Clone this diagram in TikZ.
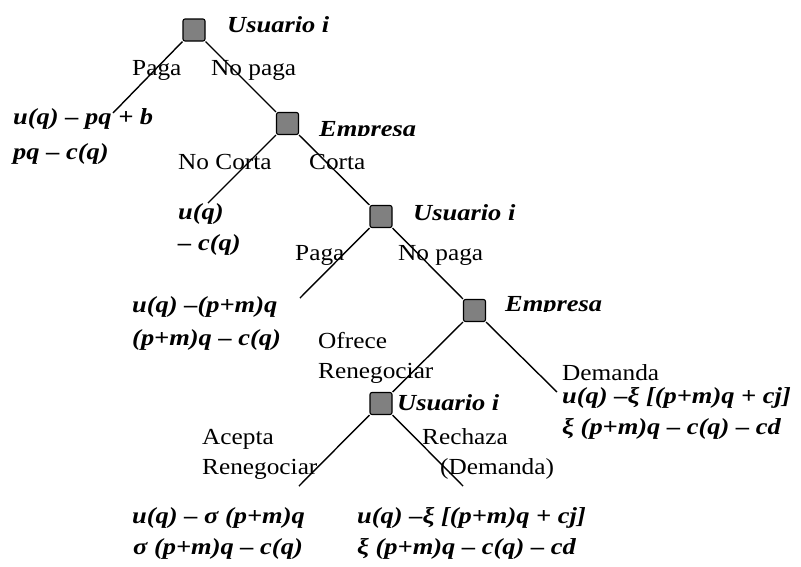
\documentclass[tikz,border=0pt]{standalone}
\usepackage{fontspec}
\setmainfont{Liberation Serif}[FakeStretch=1.1]
\newfontfamily\bif{Liberation Serif}[FakeStretch=1.15]
\definecolor{boxgray}{HTML}{808080}
\begin{document}
\begin{tikzpicture}[x=1pt,y=-1pt,
  player/.style={draw=black, line width=1.1pt, fill=boxgray, rounded corners=2pt,
                 minimum width=22pt, minimum height=22pt, inner sep=0pt},
  rl/.style={font=\fontsize{23}{27}\selectfont, anchor=base west, inner sep=0pt},
  bl/.style={font=\fontsize{23}{27}\selectfont\bif\bfseries\itshape, anchor=base west, inner sep=0pt},
  edge/.style={line width=1.4pt, black}]
\useasboundingbox (0,0) rectangle (801,566);

% decision nodes
\node[player] (b1) at (194,30) {};
\node[player] (b2) at (287.5,123.5) {};
\node[player] (b3) at (381,216.5) {};
\node[player] (b4) at (474.5,310.5) {};
\node[player] (b5) at (381,403.5) {};

% leaf ends
\coordinate (l1) at (113,113);
\coordinate (l2) at (208,203);
\coordinate (l3) at (300,298);
\coordinate (l4) at (557,392);
\coordinate (l5) at (299,486);
\coordinate (l6) at (463,486);

% edges
\draw[edge] (b1.south west) -- (l1);
\draw[edge] (b1.south east) -- (b2.north west);
\draw[edge] (b2.south west) -- (l2);
\draw[edge] (b2.south east) -- (b3.north west);
\draw[edge] (b3.south west) -- (l3);
\draw[edge] (b3.south east) -- (b4.north west);
\draw[edge] (b4.south west) -- (b5.north east);
\draw[edge] (b4.south east) -- (l4);
\draw[edge] (b5.south west) -- (l5);
\draw[edge] (b5.south east) -- (l6);

% player labels
\node[bl] (u1) at (227,32) {Usuario i};
\begin{scope}
  \clip (300,100) rectangle (440,135);
  \node[bl] (emp1) at (319,136) {Empresa};
\end{scope}
\node[bl] (u2) at (413,220) {Usuario i};
\begin{scope}
  \clip (490,280) rectangle (640,311);
  \node[bl] (emp2) at (505,311) {Empresa};
\end{scope}
\node[bl] (u3) at (397,410) {Usuario i};

% action labels
\node[rl] (paga1) at (132,75) {Paga};
\node[rl] (nopaga1) at (211,75) {No paga};
\node[rl] (nocorta) at (178,169) {No Corta};
\node[rl] (corta) at (309,169) {Corta};
\node[rl] (paga2) at (295,260) {Paga};
\node[rl] (nopaga2) at (398,260) {No paga};
\node[rl] (ofrece) at (318,348) {Ofrece};
\node[rl] (reneg1) at (318,378) {Renegociar};
\node[rl] (demanda) at (562,380) {Demanda};
\node[rl] (acepta) at (202,444) {Acepta};
\node[rl] (reneg2) at (202,474) {Renegociar};
\node[rl] (rechaza) at (422,444) {Rechaza};
\node[rl] (demanda2) at (440,474) {(Demanda)};

% payoffs
\node[bl] (p1a) at (13,124) {u(q) – pq + b};
\node[bl] (p1b) at (13,159) {pq – c(q)};
\node[bl] (p2a) at (178,219) {u(q)};
\node[bl] (p2b) at (178,250) {– c(q)};
\node[bl] (p3a) at (132,312) {u(q) –(p+m)q};
\node[bl] (p3b) at (132,345) {(p+m)q – c(q)};
\node[bl] (p4a) at (562,403) {u(q) –ξ [(p+m)q + cj]};
\node[bl] (p4b) at (562,434) {ξ (p+m)q – c(q) – cd};
\node[bl] (p5a) at (132,523) {u(q) – σ (p+m)q};
\node[bl] (p5b) at (133,554) {σ (p+m)q – c(q)};
\node[bl] (p6a) at (357,523) {u(q) –ξ [(p+m)q + cj]};
\node[bl] (p6b) at (357,554) {ξ (p+m)q – c(q) – cd};
\end{tikzpicture}
\end{document}
